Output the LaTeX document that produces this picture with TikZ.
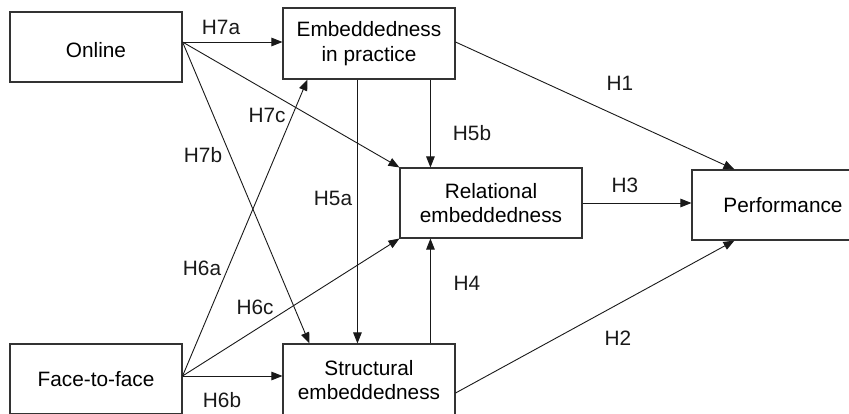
\documentclass[tikz,border=0pt]{standalone}
\usepackage{fontspec}
\setmainfont{Liberation Sans}
\usetikzlibrary{arrows.meta,calc}
\begin{document}
\begin{tikzpicture}[x=1pt,y=-1pt,
  txt/.style={font=\fontsize{20.8}{24.5}\selectfont},
  box/.style={txt, draw=black!80, line width=1.1pt, minimum width=172pt, minimum height=71pt, inner sep=0pt, align=center},
  conn/.style={line width=0.9pt, draw=black!90, -{Triangle[length=11pt,width=8.5pt]}},
  lbl/.style={txt, inner sep=0pt, text=black!90}]
\useasboundingbox (0,0) rectangle (849,413);
\clip (0,0) rectangle (849,413);
% boxes
\node[box, minimum height=70pt, text height=21pt, text depth=0pt] (on) at (96,47) {Online};
\node[box] (ep) at (369,43.5) {Embeddedness\\in practice};
\node[box, minimum width=182pt, minimum height=70pt] (rel) at (491,203) {Relational\\embeddedness};
\node[box, minimum width=182pt, minimum height=70pt] (perf) at (783,205) {Performance};
\node[box, minimum height=70pt] (ff) at (96,379) {Face-to-face};
\node[box, minimum height=72pt] (st) at (369,380) {Structural\\embeddedness};
% start points
\coordinate (o) at ($(on.east)+(0,-5)$);
\coordinate (f) at ($(ff.east)+(0,-3)$);
% connectors
\draw[conn] (o) -- (o -| ep.west);
\draw[conn] (o) -- ($(st.north west)+(27,0)$);
\draw[conn] (o) -- (rel.north west);
\draw[conn] (f) -- ($(ep.south west)+(25,0)$);
\draw[conn] (f) -- (rel.south west);
\draw[conn] (f) -- (f -| st.west);
\draw[conn] ($(ep.south west)+(75,0)$) -- ($(st.north west)+(75,0)$);
\draw[conn] ($(ep.south west)+(148,0)$) -- ($(rel.north west)+(31,0)$);
\draw[conn] ($(st.north west)+(148,0)$) -- ($(rel.south west)+(31,0)$);
\draw[conn] ($(ep.east)+(0,-1.5)$) -- ($(perf.north west)+(43,0)$);
\draw[conn] (rel.east) -- (rel.east -| perf.west);
\draw[conn] ($(st.east)+(0,13)$) -- ($(perf.south west)+(43,0)$);
% labels
\node[lbl] (l7a) at (221,27) {H7a};
\node[lbl] (l7c) at (267,115) {H7c};
\node[lbl] (l7b) at (203,155) {H7b};
\node[lbl] (l5a) at (333,198) {H5a};
\node[lbl] (l1) at (620,83) {H1};
\node[lbl] (l5b) at (472,133) {H5b};
\node[lbl] (l3) at (625,185) {H3};
\node[lbl] (l6a) at (202,268) {H6a};
\node[lbl] (l6c) at (255,307) {H6c};
\node[lbl] (l6b) at (222,400) {H6b};
\node[lbl] (l4) at (467,283) {H4};
\node[lbl] (l2) at (618,338) {H2};
\end{tikzpicture}
\end{document}
